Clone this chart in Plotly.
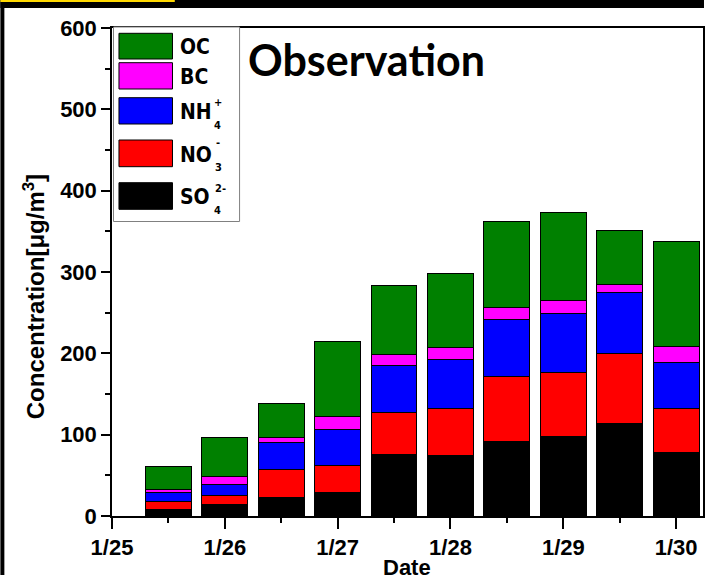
import plotly.graph_objects as go

# ---- data ----
dates = ["2013-01-25 12:00", "2013-01-26 00:00", "2013-01-26 12:00", "2013-01-27 00:00",
         "2013-01-27 12:00", "2013-01-28 00:00", "2013-01-28 12:00", "2013-01-29 00:00",
         "2013-01-29 12:00", "2013-01-30 00:00"]
so4 = [8.6, 13.9, 23.0, 28.7, 75.6, 74.8, 91.6, 97.8, 113.4, 77.7]
no3 = [9.5, 11.1, 33.6, 34.0, 51.3, 57.8, 80.0, 78.3, 86.1, 54.2]
nh4 = [11.0, 14.3, 34.0, 43.9, 57.8, 60.3, 69.7, 73.4, 75.0, 57.3]
bc = [4.1, 9.0, 5.7, 15.5, 13.6, 14.7, 14.8, 15.6, 10.7, 19.7]
oc = [27.4, 48.0, 42.6, 92.2, 84.8, 90.3, 106.5, 107.8, 66.0, 128.7]

tick_vals = ["2013-01-25", "2013-01-26", "2013-01-27", "2013-01-28", "2013-01-29", "2013-01-30"]
tick_text = ["1/25", "1/26", "1/27", "1/28", "1/29", "1/30"]
minor_vals = ["2013-01-25 12:00", "2013-01-26 12:00", "2013-01-27 12:00",
              "2013-01-28 12:00", "2013-01-29 12:00"]

series = [
    ("SO4", so4, "#000000"),
    ("NO3", no3, "#ff0000"),
    ("NH4", nh4, "#0000ff"),
    ("BC", bc, "#ff00ff"),
    ("OC", oc, "#008000"),
]

W, H = 706, 575
L, R, T, B = 112, 1, 28, 59
PW, PH = W - L - R, H - T - B


def px(x):  # window pixel -> paper
    return (x - L) / PW


def py(y):
    return (H - B - y) / PH


BAR_MS = 35.1e6

fig = go.Figure()
for name, vals, col in series:
    fig.add_trace(go.Bar(
        x=dates, y=vals, name=name, width=BAR_MS,
        marker=dict(color=col, line=dict(color="#000000", width=1)),
        showlegend=False,
    ))

AX = "Liberation Sans, Arial, sans-serif"
NARROW = "Liberation Sans Narrow, Arial Narrow, DejaVu Sans Condensed, sans-serif"

fig.update_layout(
    width=W, height=H,
    margin=dict(l=L, r=R, t=T, b=B, pad=0),
    barmode="stack",
    paper_bgcolor="#ffffff",
    plot_bgcolor="#ffffff",
    font=dict(family=AX, size=22, color="#000000", weight="bold"),
    xaxis=dict(
        type="date",
        range=["2013-01-25 00:00", "2013-01-30 05:43"],
        tickmode="array", tickvals=tick_vals, ticktext=tick_text,
        ticks="outside", ticklen=11, tickwidth=1.5, tickcolor="#000",
        minor=dict(tickmode="array", tickvals=minor_vals, ticks="outside",
                   ticklen=5, tickwidth=1.5, tickcolor="#000"),
        showline=True, linecolor="#000", linewidth=1.5, mirror=True,
        showgrid=False, zeroline=False,
        tickfont=dict(family=AX, size=22, weight="bold"),
    ),
    yaxis=dict(
        range=[0, 600], tickmode="linear", tick0=0, dtick=100,
        ticks="outside", ticklen=9, tickwidth=1.5, tickcolor="#000",
        minor=dict(dtick=50, ticks="outside", ticklen=5, tickwidth=1.5, tickcolor="#000"),
        showline=True, linecolor="#000", linewidth=1.5, mirror=True,
        showgrid=False, zeroline=False,
        tickfont=dict(family=AX, size=22, weight="bold"),
    ),
)

shapes = []
# dark frame strips and yellow tag at the page's top-left
shapes.append(dict(type="rect", xref="paper", yref="paper", x0=px(0), x1=px(W), y0=py(8), y1=py(0),
                   fillcolor="#000", line=dict(width=0), layer="above"))
shapes.append(dict(type="rect", xref="paper", yref="paper", x0=px(0), x1=px(4), y0=py(H), y1=py(0),
                   fillcolor="#000", line=dict(width=0), layer="above"))
shapes.append(dict(type="rect", xref="paper", yref="paper", x0=px(0), x1=px(175), y0=py(2), y1=py(0),
                   fillcolor="#ffd800", line=dict(width=0), layer="above"))
# legend box
shapes.append(dict(type="rect", xref="paper", yref="paper", x0=px(113.5), x1=px(240), y0=py(221.5), y1=py(27),
                   fillcolor="#ffffff", line=dict(color="#808080", width=1), layer="above"))
legend_rows = [("OC", "#008000", 33.3, 59.0), ("BC", "#ff00ff", 62.7, 89.0),
               ("NH4", "#0000ff", 97.7, 124.0), ("NO3", "#ff0000", 140.0, 166.7),
               ("SO4", "#000000", 182.7, 209.3)]
for _, col, y0, y1 in legend_rows:
    shapes.append(dict(type="rect", xref="paper", yref="paper", x0=px(119), x1=px(172.7),
                       y0=py(y1), y1=py(y0), fillcolor=col,
                       line=dict(color="#000", width=1), layer="above"))
fig.update_layout(shapes=shapes)

ann = []


def txt(s, x, y, size, family=NARROW, xanchor="left"):
    ann.append(dict(text=s, x=px(x), y=py(y), xref="paper", yref="paper",
                    xanchor=xanchor, yanchor="middle", showarrow=False,
                    font=dict(family=family, size=size, color="#000", weight="bold")))


# legend labels
txt("OC", 178, 47.5, 21)
txt("BC", 178, 77.5, 21)
txt("NH", 178, 112, 21)
txt("4", 212, 125.5, 11)
txt("+", 212.5, 102, 11)
txt("NO", 178, 154.5, 21)
txt("3", 213, 167.5, 11)
txt("-", 214, 142.5, 11)
txt("SO", 178, 197, 21)
txt("4", 212, 210.5, 11)
txt("2-", 213, 188, 11)

# title inside plot
ann.append(dict(text="Observation", x=px(246), y=py(60), xref="paper", yref="paper",
                xanchor="left", yanchor="middle", showarrow=False,
                font=dict(family="Lato, Open Sans, sans-serif", size=43, color="#000", weight="bold")))
# axis titles
ann.append(dict(text="Concentration[μg/m<sup>3</sup>]", x=px(34), y=py(297), xref="paper", yref="paper",
                xanchor="center", yanchor="middle", textangle=-90, showarrow=False,
                font=dict(family=AX, size=24, color="#000", weight="bold")))
ann.append(dict(text="Date", x=px(408), y=py(567), xref="paper", yref="paper",
                xanchor="center", yanchor="middle", showarrow=False,
                font=dict(family=AX, size=22, color="#000", weight="bold")))
fig.update_layout(annotations=ann)

page_js = ("document.documentElement.style.overflow = 'hidden';"
           "document.body.style.overflow = 'hidden';"
           "document.body.style.margin = '0';"
           "document.body.style.padding = '0';")
fig.write_html("out.html", post_script=page_js, config={"displayModeBar": False})
